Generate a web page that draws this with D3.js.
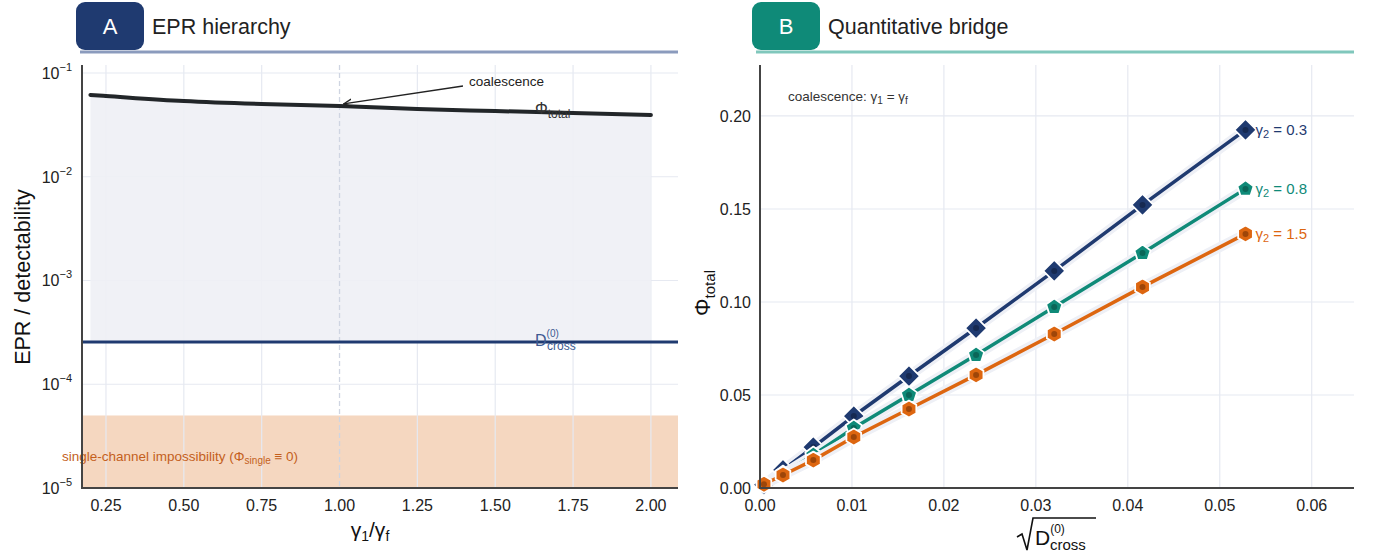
<!DOCTYPE html>
<html>
<head>
<meta charset="utf-8">
<script src="https://cdn.jsdelivr.net/npm/d3@7"></script>
<style>
  body { margin: 0; background: #fff; }
  svg { font-family: "Liberation Sans", Arial, sans-serif; }
</style>
</head>
<body>
<svg width="1378" height="558"></svg>
<script>
// Panel A data
const ratioA = [0.2, 0.25, 0.5, 0.75, 1.0, 1.25, 1.5, 1.75, 2.0];
const phiTotal = [0.0614, 0.0600, 0.0537, 0.0502, 0.0481, 0.0450, 0.0430, 0.0411, 0.0394];
const dCross = 2.55e-4;
const singleBand = [1e-5, 5e-5];
const ticksA = [0.25, 0.5, 0.75, 1.0, 1.25, 1.5, 1.75, 2.0];
const decadesA = [-5, -4, -3, -2, -1];

// Panel B data
const sqrtD = [0.00043, 0.0025, 0.0058, 0.0102, 0.0162, 0.0235, 0.0320, 0.0416, 0.0528];
const gamma2 = ["0.3", "0.8", "1.5"];
const phi03 = [0.0018, 0.0097, 0.0220, 0.0387, 0.0602, 0.0860, 0.1167, 0.1522, 0.1925];
const phi08 = [0.0020, 0.0075, 0.0177, 0.0323, 0.0500, 0.0715, 0.0973, 0.1263, 0.1608];
const phi15 = [0.0020, 0.0070, 0.0150, 0.0274, 0.0425, 0.0608, 0.0828, 0.1081, 0.1366];
const ticksBx = [0, 0.01, 0.02, 0.03, 0.04, 0.05, 0.06];
const ticksBy = [0, 0.05, 0.10, 0.15, 0.20];

const NAVY = "#1f3a70", TEAL = "#0f8a78", ORANGE = "#dd6610";
const GRID = "#e6e9f1";

const svg = d3.select("svg");

// headers
function header(x0, x1, letter, title, col, lineCol) {
    svg.append("line").attr("x1", x0).attr("x2", x1).attr("y1", 52).attr("y2", 52)
        .attr("stroke", lineCol).attr("stroke-width", 3);
    svg.append("rect").attr("x", x0 - 4).attr("y", 2).attr("width", 68).attr("height", 48)
        .attr("rx", 9).attr("fill", col);
    svg.append("text").attr("x", x0 + 30).attr("y", 34).attr("text-anchor", "middle")
        .attr("fill", "#fff").attr("font-size", 22).text(letter);
    svg.append("text").attr("x", x0 + 72).attr("y", 34).attr("fill", "#222")
        .attr("font-size", 21.5).text(title);
}
header(80, 678, "A", "EPR hierarchy", NAVY, "#8b9bbd");
header(756, 1354, "B", "Quantitative bridge", TEAL, "#80c7bc");

// ---------- Panel A ----------
const xA = d3.scaleLinear().domain([0.173, 2.087]).range([82, 678]);
const yA = d3.scaleLog().domain([1e-5, Math.pow(10, -0.923)]).range([488, 65]);
const gA = svg.append("g");

gA.append("rect").attr("x", xA.range()[0]).attr("width", xA.range()[1] - xA.range()[0])
    .attr("y", yA(singleBand[1])).attr("height", yA(singleBand[0]) - yA(singleBand[1]))
    .attr("fill", "#f5d7c0");

gA.selectAll(".gx").data(ticksA).enter().append("line")
    .attr("x1", d => xA(d)).attr("x2", d => xA(d)).attr("y1", 65).attr("y2", 488)
    .attr("stroke", d => d === 1 ? "none" : GRID).attr("stroke-width", 1.2);
gA.selectAll(".gy").data(decadesA).enter().append("line")
    .attr("x1", 82).attr("x2", 678).attr("y1", d => yA(Math.pow(10, d))).attr("y2", d => yA(Math.pow(10, d)))
    .attr("stroke", GRID).attr("stroke-width", 1.2);

// shaded region between phi_total and D_cross
gA.append("path").datum(ratioA.map((r, i) => [r, phiTotal[i]]))
    .attr("d", d3.area().x(d => xA(d[0])).y0(yA(dCross)).y1(d => yA(d[1])).curve(d3.curveMonotoneX))
    .attr("fill", "#eef0f5").attr("opacity", 0.9);

gA.append("line").attr("x1", xA(1)).attr("x2", xA(1)).attr("y1", 65).attr("y2", 488)
    .attr("stroke", "#cfd5e2").attr("stroke-width", 1.3).attr("stroke-dasharray", "5,3");

gA.append("line").attr("x1", 82).attr("x2", 678).attr("y1", yA(dCross)).attr("y2", yA(dCross))
    .attr("stroke", NAVY).attr("stroke-width", 3);

gA.append("path").datum(ratioA.map((r, i) => [r, phiTotal[i]]))
    .attr("d", d3.line().x(d => xA(d[0])).y(d => yA(d[1])).curve(d3.curveMonotoneX))
    .attr("fill", "none").attr("stroke", "#222629").attr("stroke-width", 4).attr("stroke-linecap", "round");

// labels
const lp = gA.append("text").attr("x", 535).attr("y", 114).attr("fill", "#333").attr("font-size", 16);
lp.append("tspan").text("Φ");
lp.append("tspan").attr("font-size", 12).attr("dy", 4).text("total");
const ld = gA.append("text").attr("x", 535).attr("y", 346).attr("fill", "#3d5a92").attr("font-size", 16);
ld.append("tspan").text("D");
ld.append("tspan").attr("font-size", 10).attr("dy", -9).text("(0)");
ld.append("tspan").attr("font-size", 12).attr("x", 547).attr("dy", 13).text("cross");

const ls = gA.append("text").attr("x", 62).attr("y", 461).attr("fill", "#c45f1c").attr("font-size", 13.5);
ls.append("tspan").text("single-channel impossibility (Φ");
ls.append("tspan").attr("font-size", 10).attr("dy", 3).text("single");
ls.append("tspan").attr("dy", -3).text(" ≡ 0)");

// coalescence arrow
svg.append("defs").append("marker").attr("id", "arr").attr("viewBox", "0 0 10 10")
    .attr("refX", 9).attr("refY", 5).attr("markerWidth", 7).attr("markerHeight", 7).attr("orient", "auto")
    .append("path").attr("d", "M0,1 L9,5 L0,9").attr("fill", "none").attr("stroke", "#222").attr("stroke-width", 1.4);
gA.append("line").attr("x1", 463).attr("y1", 86).attr("x2", xA(1) + 4).attr("y2", yA(phiTotal[4]) - 2)
    .attr("stroke", "#222").attr("stroke-width", 1.3).attr("marker-end", "url(#arr)");
gA.append("text").attr("x", 469).attr("y", 86).attr("font-size", 13.5).attr("fill", "#222").text("coalescence");

// axes
gA.append("line").attr("x1", 82).attr("x2", 82).attr("y1", 65).attr("y2", 488).attr("stroke", "#444").attr("stroke-width", 2);
gA.append("line").attr("x1", 81).attr("x2", 678).attr("y1", 488).attr("y2", 488).attr("stroke", "#444").attr("stroke-width", 2);
gA.selectAll(".tx").data(ticksA).enter().append("text")
    .attr("x", d => xA(d)).attr("y", 511).attr("text-anchor", "middle").attr("font-size", 16).attr("fill", "#222")
    .text(d => d3.format(".2f")(d));
decadesA.forEach(e => {
    const t = gA.append("text").attr("x", 72).attr("y", yA(Math.pow(10, e)) + 6).attr("text-anchor", "end")
        .attr("font-size", 16).attr("fill", "#222");
    t.append("tspan").text("10");
    t.append("tspan").attr("font-size", 11).attr("dy", -8).text("−" + (-e));
});
gA.append("text").attr("transform", "translate(30,277) rotate(-90)").attr("text-anchor", "middle")
    .attr("font-size", 21.5).attr("fill", "#111").text("EPR / detectability");
const txa = gA.append("text").attr("x", 370).attr("y", 537).attr("text-anchor", "middle").attr("font-size", 21).attr("fill", "#111");
txa.append("tspan").text("γ");
txa.append("tspan").attr("font-size", 14).attr("dy", 4).text("1");
txa.append("tspan").attr("dy", -4).text("/γ");
txa.append("tspan").attr("font-size", 14).attr("dy", 4).text("f");

// ---------- Panel B ----------
const xB = d3.scaleLinear().domain([0, 0.0646]).range([760, 1354]);
const yB = d3.scaleLinear().domain([0, 0.2274]).range([488, 65]);
const gB = svg.append("g");

gB.selectAll(".gx").data(ticksBx.slice(1)).enter().append("line")
    .attr("x1", d => xB(d)).attr("x2", d => xB(d)).attr("y1", 65).attr("y2", 488)
    .attr("stroke", GRID).attr("stroke-width", 1.2);
gB.selectAll(".gy").data(ticksBy.slice(1)).enter().append("line")
    .attr("x1", 760).attr("x2", 1354).attr("y1", d => yB(d)).attr("y2", d => yB(d))
    .attr("stroke", GRID).attr("stroke-width", 1.2);

const series = [
    { vals: phi03, col: NAVY, dark: "#14254a", shape: "diamond", size: 11 },
    { vals: phi08, col: TEAL, dark: "#0a5c50", shape: "pentagon", size: 8.5 },
    { vals: phi15, col: ORANGE, dark: "#8f3f08", shape: "hexagon", size: 8.5 }
];

function poly(n, r, rot) {
    const pts = [];
    for (let k = 0; k < n; k++) {
        const a = rot + k * 2 * Math.PI / n;
        pts.push([r * Math.cos(a), r * Math.sin(a)]);
    }
    return "M" + pts.map(p => p.join(",")).join("L") + "Z";
}
function shapePath(s, r) {
    if (s === "diamond") return poly(4, r, -Math.PI / 2);
    if (s === "pentagon") return poly(5, r, -Math.PI / 2);
    return poly(6, r, -Math.PI / 2);
}

const lineB = d3.line().x(d => xB(d[0])).y(d => yB(d[1]));
series.forEach(s => {
    const pts = sqrtD.map((x, i) => [x, s.vals[i]]);
    const g = gB.append("g");
    g.append("path").datum(pts).attr("d", lineB).attr("fill", "none")
        .attr("stroke", "#eef0f6").attr("stroke-width", 10).attr("stroke-linecap", "round");
    g.append("path").datum(pts).attr("d", lineB).attr("fill", "none")
        .attr("stroke", s.col).attr("stroke-width", 3.5);
    g.selectAll(".m").data(pts).enter().append("path")
        .attr("transform", d => `translate(${xB(d[0])},${yB(d[1])})`)
        .attr("d", shapePath(s.shape, s.size))
        .attr("fill", s.col).attr("stroke", "#fff").attr("stroke-width", 1.8).attr("stroke-linejoin", "round");
    g.selectAll(".c").data(pts).enter().append("circle")
        .attr("cx", d => xB(d[0])).attr("cy", d => yB(d[1])).attr("r", 3)
        .attr("fill", s.dark).attr("opacity", 0.8);
});
series.forEach((s, si) => {
    const last = s.vals[s.vals.length - 1];
    const t = gB.append("text").attr("x", xB(sqrtD[sqrtD.length - 1]) + 10).attr("y", yB(last) + 5)
        .attr("fill", s.col).attr("font-size", 15);
    t.append("tspan").text("γ");
    t.append("tspan").attr("font-size", 11).attr("dy", 3).text("2");
    t.append("tspan").attr("dy", -3).text(" = " + gamma2[si]);
});

const ca = gB.append("text").attr("x", 788).attr("y", 101).attr("font-size", 13.5).attr("fill", "#333");
ca.append("tspan").text("coalescence: γ");
ca.append("tspan").attr("font-size", 10).attr("dy", 3).text("1");
ca.append("tspan").attr("dy", -3).text(" = γ");
ca.append("tspan").attr("font-size", 10).attr("dy", 3).text("f");

gB.append("line").attr("x1", 760).attr("x2", 760).attr("y1", 65).attr("y2", 488).attr("stroke", "#444").attr("stroke-width", 2);
gB.append("line").attr("x1", 759).attr("x2", 1354).attr("y1", 488).attr("y2", 488).attr("stroke", "#444").attr("stroke-width", 2);
gB.selectAll(".tx").data(ticksBx).enter().append("text")
    .attr("x", d => xB(d)).attr("y", 511).attr("text-anchor", "middle").attr("font-size", 16).attr("fill", "#222")
    .text(d => d3.format(".2f")(d));
gB.selectAll(".ty").data(ticksBy).enter().append("text")
    .attr("x", 751).attr("y", d => yB(d) + 6).attr("text-anchor", "end").attr("font-size", 16).attr("fill", "#222")
    .text(d => d3.format(".2f")(d));

const tyb = gB.append("text").attr("transform", "translate(710,293) rotate(-90)").attr("text-anchor", "middle")
    .attr("font-size", 22).attr("fill", "#111");
tyb.append("tspan").text("Φ");
tyb.append("tspan").attr("font-size", 15).attr("dy", 5).text("total");

// sqrt(D_cross) label
const txb = gB.append("g");
txb.append("path").attr("d", "M1017,537 L1022,534 L1027,550 L1033,518 L1096,518")
    .attr("fill", "none").attr("stroke", "#111").attr("stroke-width", 1.6);
const tb = txb.append("text").attr("x", 1035).attr("y", 545).attr("font-size", 21).attr("fill", "#111");
tb.append("tspan").text("D");
tb.append("tspan").attr("font-size", 12).attr("dy", -12).text("(0)");
tb.append("tspan").attr("font-size", 15).attr("x", 1050).attr("dy", 17).text("cross");
</script>
</body>
</html>
